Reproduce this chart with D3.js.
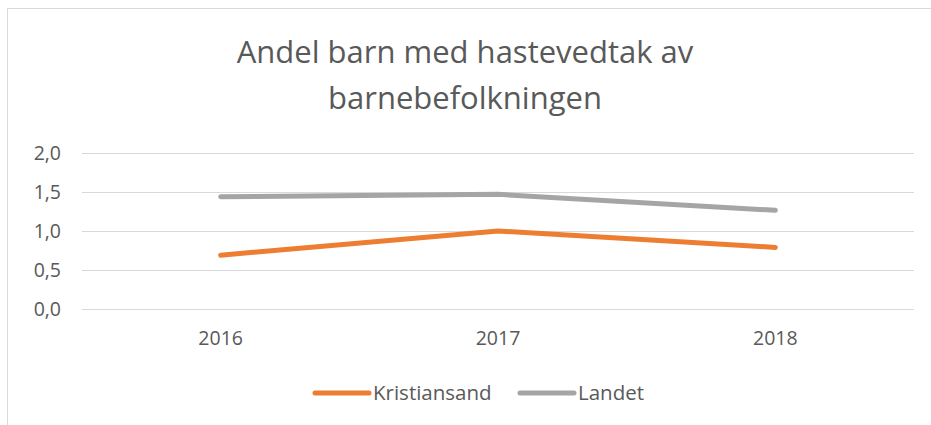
<!DOCTYPE html>
<html>
<head>
<meta charset="utf-8">
<script src="https://cdn.jsdelivr.net/npm/d3@7"></script>
<style>
  body { margin: 0; background: #fff; }
  svg { display: block; font-family: "Open Sans", sans-serif; }
</style>
</head>
<body>
<svg id="chart" width="931" height="425"></svg>
<script>
  // Chart data
  var years = ['2016', '2017', '2018'];
  var kristiansand = [0.69, 1.0, 0.79];
  var landet = [1.44, 1.47, 1.265];
  var yTicks = [0, 0.5, 1.0, 1.5, 2.0];
  var seriesNames = ['Kristiansand', 'Landet'];

  var COLORS = ['#ED7D31', '#A5A5A5'];
  var TEXT_COLOR = '#595959';

  var svg = d3.select('#chart');

  // Outer chart frame (runs off the right and bottom edges)
  svg.append('rect')
    .attr('x', 7.5).attr('y', 8.5)
    .attr('width', 940).attr('height', 440)
    .attr('fill', 'none')
    .attr('stroke', '#d9d9d9');

  // Title
  var title = svg.append('text')
    .attr('text-anchor', 'middle')
    .attr('fill', TEXT_COLOR)
    .style('font-size', '31px');
  title.append('tspan').attr('x', 465).attr('y', 63)
    .text('Andel barn med hastevedtak av');
  title.append('tspan').attr('x', 465).attr('y', 109)
    .text('barnebefolkningen');

  // Scales
  var x = d3.scaleBand().domain(years).range([82, 914]);
  var y = d3.scaleLinear().domain([0, 2]).range([309, 153]);

  // Gridlines
  svg.append('g')
    .selectAll('line')
    .data(yTicks)
    .join('line')
    .attr('x1', 82).attr('x2', 914)
    .attr('y1', function(d) { return Math.round(y(d)) + 0.5; })
    .attr('y2', function(d) { return Math.round(y(d)) + 0.5; })
    .attr('stroke', '#d9d9d9')
    .attr('stroke-width', 1);

  // Y axis labels
  var yAxis = d3.axisLeft(y)
    .tickValues(yTicks)
    .tickSize(0)
    .tickPadding(0)
    .tickFormat(function(d) { return d3.format('.1f')(d).replace('.', ','); });
  var gy = svg.append('g').attr('transform', 'translate(61,0)').call(yAxis);
  gy.select('.domain').remove();
  gy.selectAll('text')
    .attr('fill', TEXT_COLOR)
    .style('font-size', '19.5px')
    .style('font-family', '"Open Sans", sans-serif');

  // X axis labels
  var xAxis = d3.axisBottom(x).tickSize(0).tickPadding(0);
  var gx = svg.append('g').attr('transform', 'translate(0,331)').call(xAxis);
  gx.select('.domain').remove();
  gx.selectAll('text')
    .attr('fill', TEXT_COLOR)
    .style('font-size', '19.5px')
    .style('font-family', '"Open Sans", sans-serif');

  // Lines
  var line = d3.line()
    .x(function(d, i) { return x(years[i]) + x.bandwidth() / 2; })
    .y(function(d) { return y(d); });

  [kristiansand, landet].forEach(function(series, i) {
    svg.append('path')
      .datum(series)
      .attr('d', line)
      .attr('fill', 'none')
      .attr('stroke', COLORS[i])
      .attr('stroke-width', 5)
      .attr('stroke-linecap', 'round')
      .attr('stroke-linejoin', 'round');
  });

  // Legend
  var legendX = [315, 520];
  var legend = svg.append('g')
    .selectAll('g')
    .data(seriesNames)
    .join('g')
    .attr('transform', function(d, i) { return 'translate(' + legendX[i] + ',393)'; });
  legend.append('line')
    .attr('x1', 0).attr('x2', 54)
    .attr('stroke', function(d, i) { return COLORS[i]; })
    .attr('stroke-width', 5)
    .attr('stroke-linecap', 'round');
  legend.append('text')
    .attr('x', 58).attr('dy', '0.35em')
    .attr('fill', TEXT_COLOR)
    .style('font-size', '20.5px')
    .text(function(d) { return d; });
</script>
</body>
</html>
